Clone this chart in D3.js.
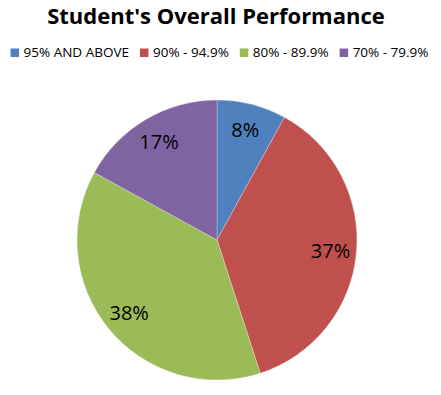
<!DOCTYPE html>
<html>
<head>
<meta charset="utf-8">
<script src="https://cdn.jsdelivr.net/npm/d3@7"></script>
<style>
  body { margin: 0; background: #fff; }
  text { font-family: "Open Sans", "Noto Sans", sans-serif; }
</style>
</head>
<body>
<div id="chart"></div>
<script>
// data
var categories = ["95% AND ABOVE", "90% - 94.9%", "80% - 89.9%", "70% - 79.9%"];
var values = [8, 37, 38, 17];
var colors = ["#4F81BD", "#C0504D", "#9BBB59", "#8064A2"];

var svgWidth = 441, svgHeight = 395;

var svg = d3.select("#chart")
  .append("svg")
  .attr("width", svgWidth)
  .attr("height", svgHeight);

// title
svg.append("text")
  .attr("x", 216)
  .attr("y", 24)
  .attr("text-anchor", "middle")
  .style("font-size", "22px")
  .style("font-weight", "bold")
  .text("Student's Overall Performance");

// legend, laid out from text widths and centred
var legend = svg.append("g");
var xPos = 0;
categories.forEach(function(c, i) {
  var item = legend.append("g").attr("transform", `translate(${xPos},0)`);
  item.append("rect")
    .attr("x", 0)
    .attr("y", -8.5)
    .attr("width", 8.5)
    .attr("height", 8.5)
    .attr("fill", colors[i]);
  var t = item.append("text")
    .attr("x", 13)
    .attr("y", 0)
    .style("font-size", "13.5px")
    .text(c);
  xPos += 13 + t.node().getComputedTextLength() + 11;
});
xPos -= 11;
legend.attr("transform", `translate(${219.5 - xPos / 2}, 57)`);

// pie
var cx = 217, cy = 240, radius = 140;

var pie = d3.pie().sort(null).value(d => d);
var arc = d3.arc().innerRadius(0).outerRadius(radius);
var labelArc = d3.arc().innerRadius(114).outerRadius(114);

var pieGroup = svg.append("g")
  .attr("transform", `translate(${cx}, ${cy})`);

var arcs = pie(values);

pieGroup.selectAll("path")
  .data(arcs)
  .enter()
  .append("path")
  .attr("d", arc)
  .attr("fill", (d, i) => colors[i])
  .attr("stroke", "#ffffff")
  .attr("stroke-opacity", 0.35)
  .attr("stroke-width", 0.8);

pieGroup.selectAll(".lbl")
  .data(arcs)
  .enter()
  .append("text")
  .attr("class", "lbl")
  .attr("transform", d => `translate(${labelArc.centroid(d)})`)
  .attr("dy", "0.35em")
  .attr("text-anchor", "middle")
  .style("font-size", "20px")
  .style("fill", "#000")
  .text(d => d.data + "%");
</script>
</body>
</html>
